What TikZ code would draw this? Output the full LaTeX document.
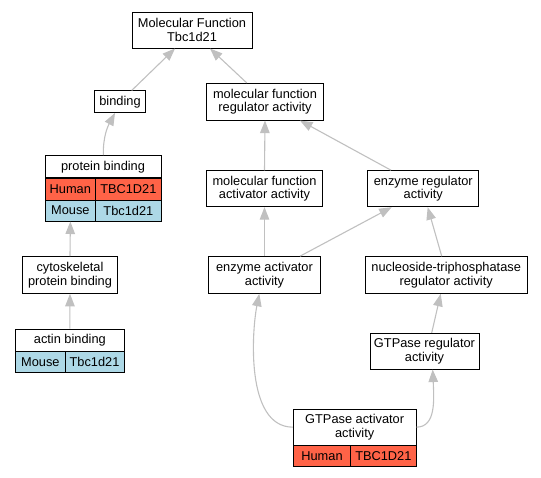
\documentclass[tikz,border=0pt]{standalone}
\usepackage{fontspec}
\setmainfont{Liberation Sans}
\usetikzlibrary{arrows.meta}
\definecolor{hum}{HTML}{FF6347}
\definecolor{mou}{HTML}{ADD8E6}
\definecolor{edgegray}{HTML}{C0C0C0}
\begin{document}
\begin{tikzpicture}[x=1pt,y=-1pt,
  box/.style={draw=black,line width=1pt,fill=white,inner sep=0pt,align=center,
    font=\fontsize{12.8}{13.6}\selectfont},
  humcell/.style={box,fill=hum},
  moucell/.style={box,fill=mou},
  edge/.style={draw=edgegray,line width=1.1pt,-{Triangle[length=12.5pt,width=9.5pt]}}]
\useasboundingbox (0,0) rectangle (541,477);
% top
\node[box,minimum width=120pt,minimum height=36pt] (mf) at (192,30) {Molecular Function\\Tbc1d21};
\node[box,minimum width=51pt,minimum height=21.5pt] (binding) at (120,101.7) {binding};
\node[box,minimum width=116.6pt,minimum height=36.7pt] (mfra) at (265,101.7) {molecular function\\regulator activity};
% protein binding table
\node[box,minimum width=116pt,minimum height=22.3pt] (pb) at (103,166.8) {protein binding};
\node[humcell,minimum width=50.7pt,minimum height=22pt] (pbhl) at (70.35,189) {Human};
\node[humcell,minimum width=65.3pt,minimum height=22pt] (pbhr) at (128.35,189) {TBC1D21};
\node[moucell,minimum width=50.7pt,minimum height=21pt] (pbml) at (70.35,210.5) {Mouse};
\node[moucell,minimum width=65.3pt,minimum height=21pt] (pbmr) at (128.35,210.5) {Tbc1d21};
% cytoskeletal
\node[box,minimum width=94.6pt,minimum height=36.6pt] (cyto) at (70,275) {cytoskeletal\\protein binding};
% actin binding table
\node[box,minimum width=108.3pt,minimum height=22pt] (actin) at (69.85,340) {actin binding};
\node[moucell,minimum width=49.3pt,minimum height=21.7pt] (acml) at (40.35,361.85) {Mouse};
\node[moucell,minimum width=59pt,minimum height=21.7pt] (acmr) at (94.5,361.85) {Tbc1d21};
% right branch
\node[box,minimum width=115.6pt,minimum height=35.7pt] (mfaa) at (264.5,188.8) {molecular function\\activator activity};
\node[box,minimum width=111.3pt,minimum height=36pt] (era) at (423.3,188.7) {enzyme regulator\\activity};
\node[box,minimum width=112.4pt,minimum height=36.6pt] (eaa) at (264.5,275) {enzyme activator\\activity};
\node[box,minimum width=162.3pt,minimum height=36.6pt] (ntp) at (446.2,275) {nucleoside-triphosphatase\\regulator activity};
\node[box,minimum width=109pt,minimum height=35.7pt] (gtr) at (424.5,351.2) {GTPase regulator\\activity};
% GTPase activator table
\node[box,minimum width=122.7pt,minimum height=35.7pt] (gaa) at (354.65,427.15) {GTPase activator\\activity};
\node[humcell,minimum width=57.4pt,minimum height=21.7pt] (gahl) at (322,455.85) {Human};
\node[humcell,minimum width=65.3pt,minimum height=21.7pt] (gahr) at (383.35,455.85) {TBC1D21};
% edges
\draw[edge] ([xshift=11.7pt]binding.north) -- ([xshift=-17pt]mf.south);
\draw[edge] ([xshift=-18.3pt]mfra.north) -- ([xshift=18pt]mf.south);
\draw[edge] ([xshift=0.3pt]pb.north) .. controls (103,136) and (108,126) .. ([xshift=-5pt]binding.south);
\draw[edge] (cyto.north) -- (pbml.south);
\draw[edge] (actin.north) -- (cyto.south);
\draw[edge] (mfaa.north) -- (mfra.south);
\draw[edge] ([xshift=-32.3pt]era.north) -- ([xshift=35pt]mfra.south);
\draw[edge] (eaa.north) -- (mfaa.south);
\draw[edge] ([xshift=35.5pt]eaa.north) -- ([xshift=-31.6pt]era.south);
\draw[edge] ([xshift=-4.5pt]ntp.north) -- ([xshift=4.4pt]era.south);
\draw[edge] ([xshift=7.2pt]gtr.north) -- ([xshift=-5.5pt]ntp.south);
\draw[edge] (gaa.west) .. controls (245,427) and (252,330) .. ([xshift=-5.2pt]eaa.south);
\draw[edge] (gaa.east) .. controls (436,427) and (434,400) .. ([xshift=8.2pt]gtr.south);
\end{tikzpicture}
\end{document}
